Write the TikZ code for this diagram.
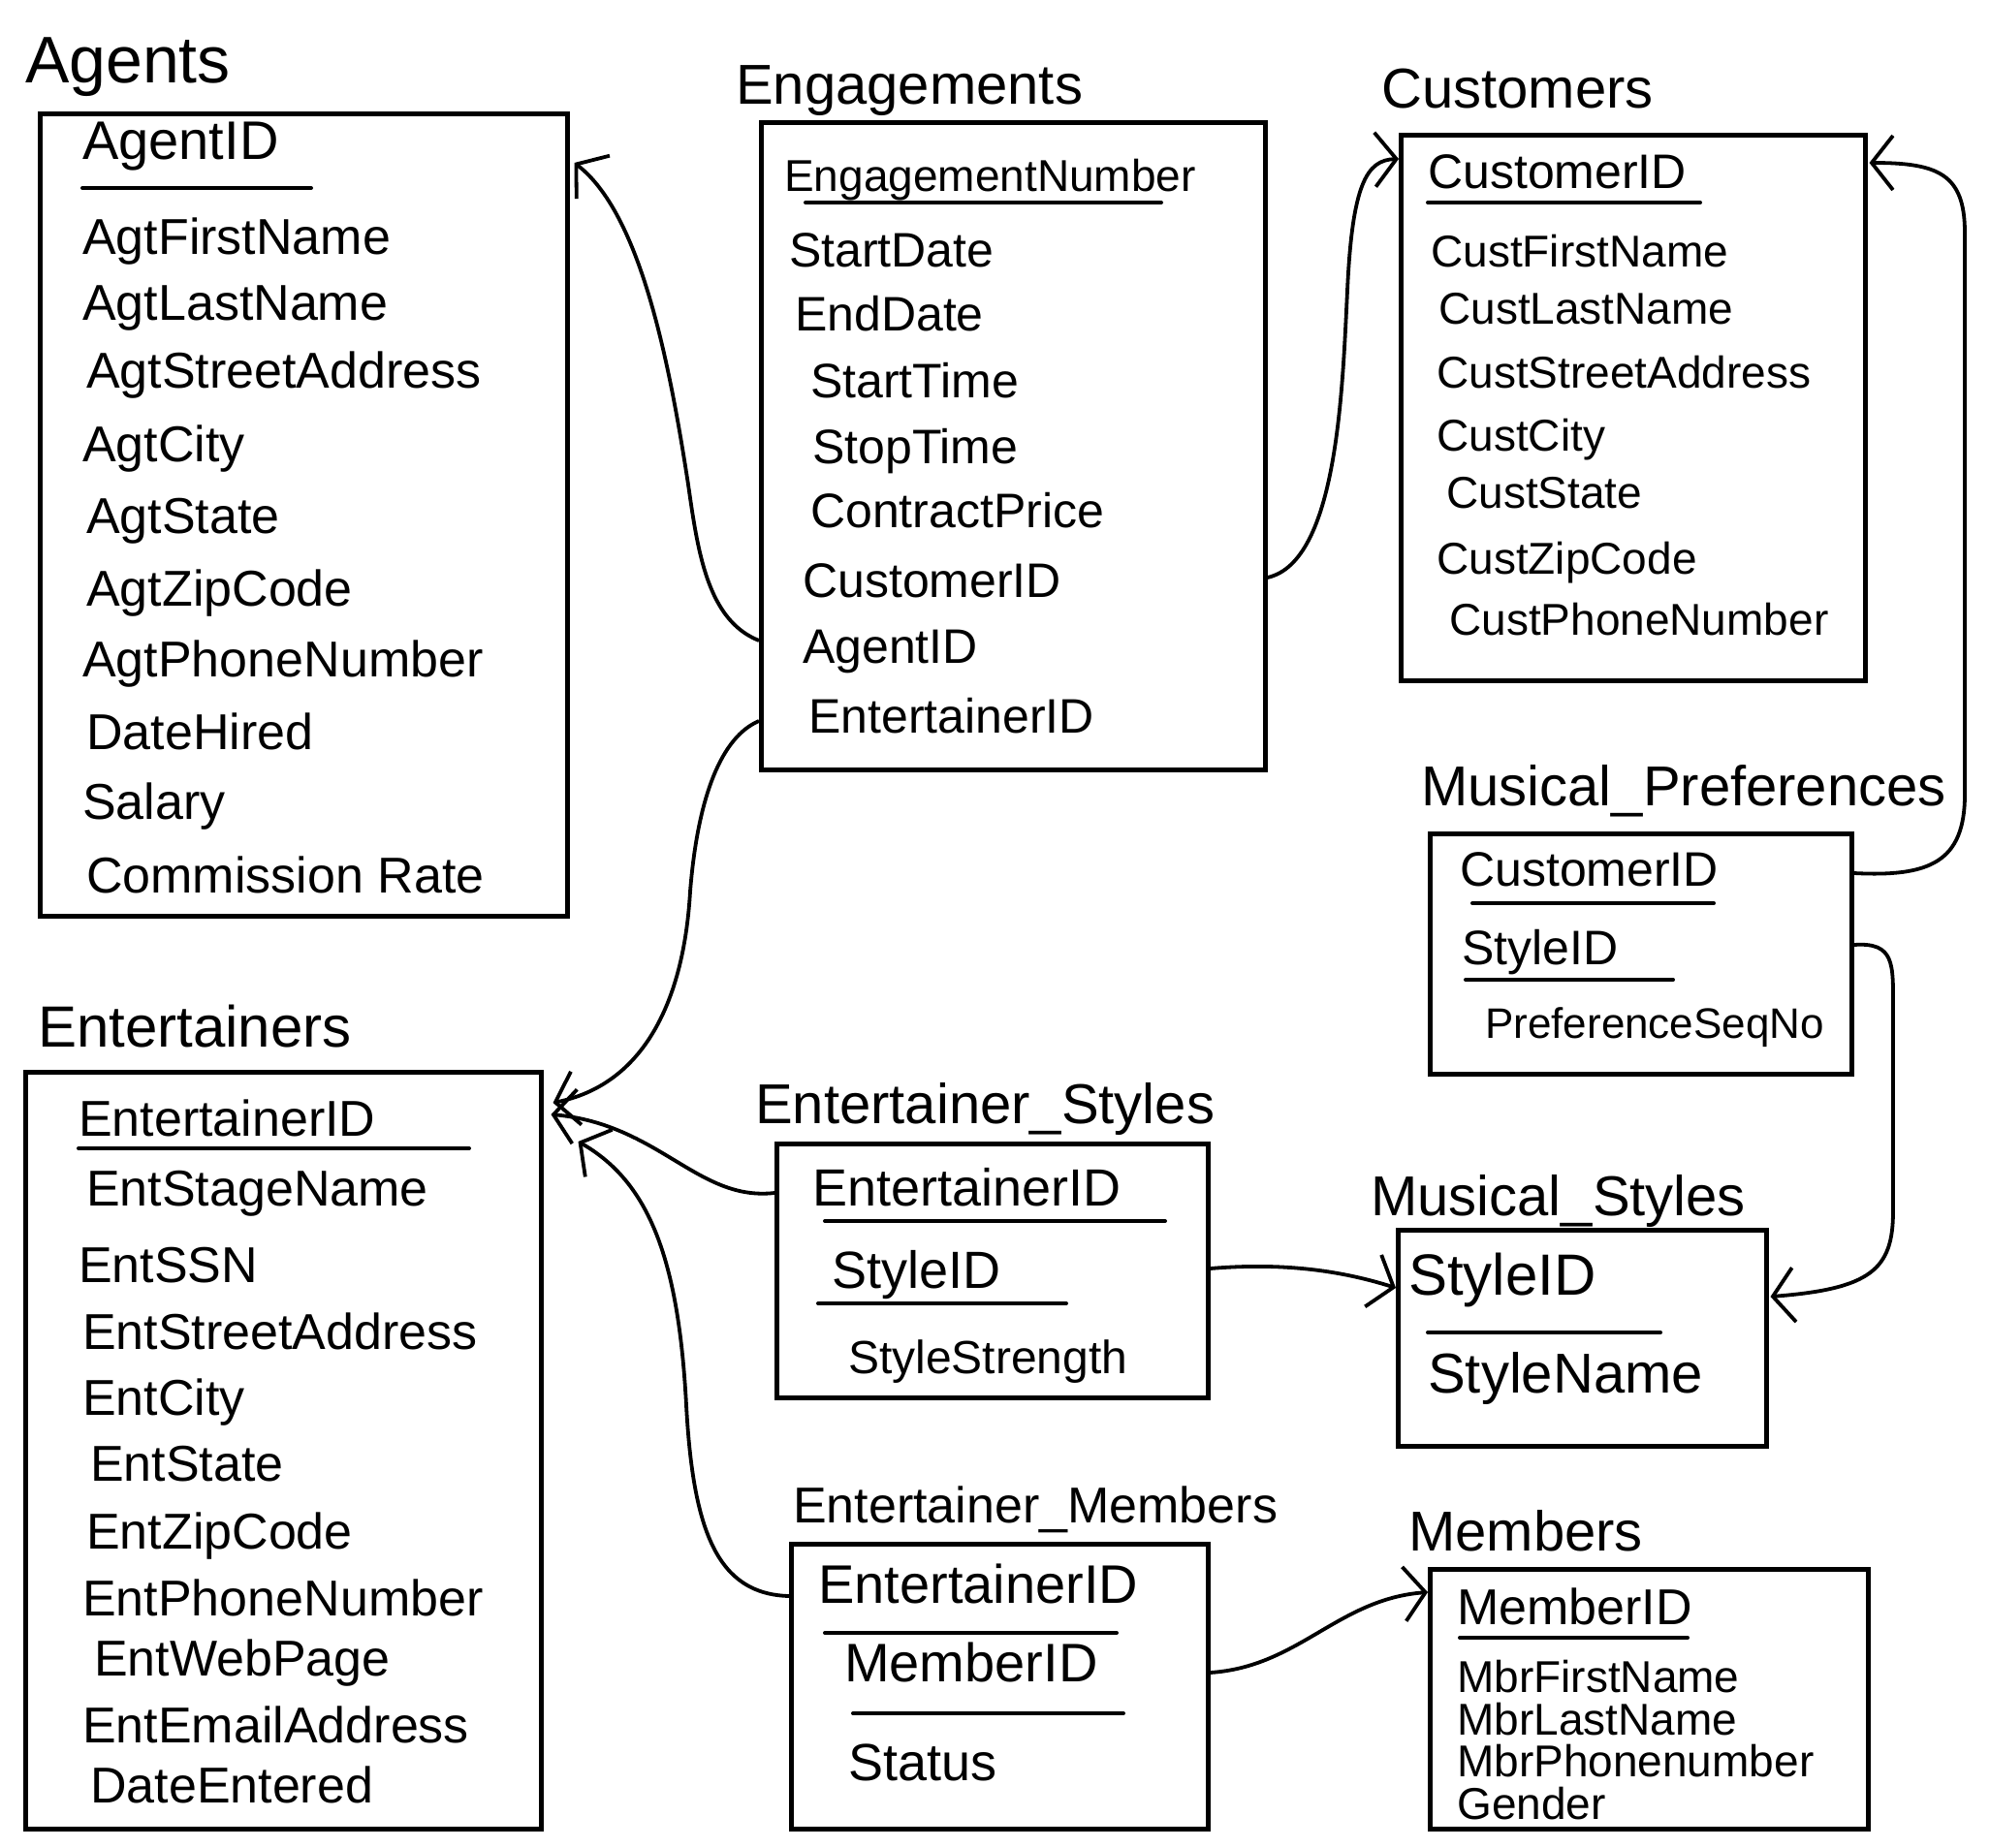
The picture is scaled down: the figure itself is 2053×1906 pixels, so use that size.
\documentclass[tikz,border=0pt]{standalone}
\usepackage{fontspec}
\setmainfont{Liberation Sans}
\usetikzlibrary{arrows.meta,calc}
\tikzset{
  box/.style={draw, line width=4.5pt, rectangle, anchor=north west, inner sep=0pt},
  ttl/.style={anchor=base west, inner sep=0pt, font=\fontsize{58}{60}\selectfont},
  fld/.style={anchor=mid west, inner sep=0pt, yshift=-18pt, font=\fontsize{#1}{#1}\selectfont},
  uline/.style={line width=4pt, line cap=round},
  conn/.style={line width=3.8pt, -{Straight Barb[length=22pt, width=56pt, line width=3.8pt]}},
}
\begin{document}
\begin{tikzpicture}[x=1pt, y=-1pt]
\fill[white] (0,0) rectangle (2053,1906);
\useasboundingbox (0,0) rectangle (2053,1906);

% ---------- Agents ----------
\node[ttl, font=\fontsize{68}{70}\selectfont] (agT) at (26,85) {Agents};
\node[box, minimum width=544, minimum height=828] (agbox) at (39,115) {};
\node[fld=56] (ag1) at (85,144) {AgentID};
\draw[uline] (85,194) -- (321,194);
\node[fld=52] (ag2) at (85,242) {AgtFirstName};
\node[fld=52] (ag3) at (85,310) {AgtLastName};
\node[fld=52] (ag4) at (89,380) {AgtStreetAddress};
\node[fld=52] (ag5) at (85,456) {AgtCity};
\node[fld=52] (ag6) at (89,530) {AgtState};
\node[fld=52] (ag7) at (89,605) {AgtZipCode};
\node[fld=52] (ag8) at (85,678) {AgtPhoneNumber};
\node[fld=52] (ag9) at (89,753) {DateHired};
\node[fld=52] (ag10) at (85,825) {Salary};
\node[fld=52] (ag11) at (89,901) {Commission Rate};

% ---------- Engagements ----------
\node[ttl] (engT) at (759,107) {Engagements};
\node[box, minimum width=520, minimum height=668] (engbox) at (783,124) {};
\node[fld=46] (en1) at (809,177) {EngagementNumber};
\draw[uline] (831,209) -- (1198,209);
\node[fld=50] (en2) at (814,255) {StartDate};
\node[fld=50] (en3) at (820,321) {EndDate};
\node[fld=50] (en4) at (836,390) {StartTime};
\node[fld=50] (en5) at (838,458) {StopTime};
\node[fld=50] (en6) at (836,524) {ContractPrice};
\node[fld=50] (en7) at (828,596) {CustomerID};
\node[fld=50] (en8) at (828,664) {AgentID};
\node[fld=50] (en9) at (834,736) {EntertainerID};

% ---------- Customers ----------
\node[ttl] (cuT) at (1425,111) {Customers};
\node[box, minimum width=479, minimum height=563] (custbox) at (1443,137) {};
\node[fld=50] (cu1) at (1473,174) {CustomerID};
\draw[uline] (1473,209) -- (1754,209);
\node[fld=46] (cu2) at (1476,255) {CustFirstName};
\node[fld=46] (cu3) at (1484,314) {CustLastName};
\node[fld=46] (cu4) at (1482,380) {CustStreetAddress};
\node[fld=46] (cu5) at (1482,445) {CustCity};
\node[fld=46] (cu6) at (1492,504) {CustState};
\node[fld=46] (cu7) at (1482,572) {CustZipCode};
\node[fld=46] (cu8) at (1495,635) {CustPhoneNumber};

% ---------- Musical_Preferences ----------
\node[ttl] (mpT) at (1466,831) {Musical\_Preferences};
\node[box, minimum width=435, minimum height=248] (mpbox) at (1473,858) {};
\node[fld=50] (mp1) at (1506,894) {CustomerID};
\draw[uline] (1519,932) -- (1768,932);
\node[fld=50] (mp2) at (1508,975) {StyleID};
\draw[uline] (1512,1011) -- (1726,1011);
\node[fld=44] (mp3) at (1532,1051) {PreferenceSeqNo};

% ---------- Entertainers ----------
\node[ttl, font=\fontsize{60}{62}\selectfont] (etT) at (39,1080) {Entertainers};
\node[box, minimum width=532, minimum height=781] (entbox) at (24,1104) {};
\node[fld=52] (et1) at (81,1152) {EntertainerID};
\draw[uline] (81,1185) -- (484,1185);
\node[fld=52] (et2) at (89,1224) {EntStageName};
\node[fld=52] (et3) at (81,1303) {EntSSN};
\node[fld=52] (et4) at (85,1372) {EntStreetAddress};
\node[fld=52] (et5) at (85,1440) {EntCity};
\node[fld=52] (et6) at (93,1508) {EntState};
\node[fld=52] (et7) at (89,1578) {EntZipCode};
\node[fld=52] (et8) at (85,1647) {EntPhoneNumber};
\node[fld=52] (et9) at (97,1709) {EntWebPage};
\node[fld=52] (et10) at (85,1778) {EntEmailAddress};
\node[fld=52] (et11) at (93,1840) {DateEntered};

% ---------- Entertainer_Styles ----------
\node[ttl] (esT) at (779,1159) {Entertainer\_Styles};
\node[box, minimum width=445, minimum height=262] (esbox) at (799,1178) {};
\node[fld=54] (es1) at (838,1224) {EntertainerID};
\draw[uline] (851,1260) -- (1202,1260);
\node[fld=54] (es2) at (858,1309) {StyleID};
\draw[uline] (844,1345) -- (1100,1345);
\node[fld=48] (es3) at (875,1397) {StyleStrength};

% ---------- Musical_Styles ----------
\node[ttl] (msT) at (1414,1254) {Musical\_Styles};
\node[box, minimum width=380, minimum height=223] (msbox) at (1440,1267) {};
\node[fld=60] (ms1) at (1453,1316) {StyleID};
\draw[uline] (1473,1375) -- (1713,1375);
\node[fld=58] (ms2) at (1473,1417) {StyleName};

% ---------- Entertainer_Members ----------
\node[ttl, font=\fontsize{52}{54}\selectfont] (emT) at (818,1571) {Entertainer\_Members};
\node[box, minimum width=430, minimum height=294] (embox) at (814,1591) {};
\node[fld=56] (em1) at (844,1634) {EntertainerID};
\draw[uline] (851,1685) -- (1152,1685);
\node[fld=56] (em2) at (871,1715) {MemberID};
\draw[uline] (880,1768) -- (1159,1768);
\node[fld=54] (em3) at (875,1817) {Status};

% ---------- Members ----------
\node[ttl] (meT) at (1453,1600) {Members};
\node[box, minimum width=452, minimum height=268] (membox) at (1473,1617) {};
\node[fld=52] (me1) at (1503,1656) {MemberID};
\draw[uline] (1506,1690) -- (1741,1690);
\node[fld=46] (me2) at (1503,1726) {MbrFirstName};
\node[fld=46] (me3) at (1503,1770) {MbrLastName};
\node[fld=46] (me4) at (1503,1813) {MbrPhonenumber};
\node[fld=46] (me5) at (1503,1857) {Gender};

% ---------- Connectors ----------
% Engagements.AgentID -> Agents
\draw[conn] ($(engbox.north west)+(0,537)$) .. controls (730,640) and (720,570) .. (710,500)
  .. controls (690,370) and (660,220) .. ($(agbox.north east)+(5,53)$);
% Engagements.CustomerID -> Customers
\draw[conn] ($(engbox.north east)+(0,472)$) .. controls (1380,580) and (1385,400) .. (1390,300)
  .. controls (1395,190) and (1410,165) .. ($(custbox.north west)+(0,27)$);
% Musical_Preferences.CustomerID -> Customers
\draw[conn] ($(mpbox.north east)+(0,43)$) .. controls (1990,905) and (2027,890) .. (2027,820)
  -- (2027,240) .. controls (2027,180) and (2000,168) .. ($(custbox.north east)+(2,31)$);
% Musical_Preferences.StyleID -> Musical_Styles
\draw[conn] ($(mpbox.north east)+(0,117)$) .. controls (1955,972) and (1953,995) .. (1953,1040)
  -- (1953,1250) .. controls (1953,1310) and (1930,1330) .. ($(msbox.north east)+(2,71)$);
% Engagements.EntertainerID -> Entertainers
\draw[conn] ($(engbox.north west)+(0,620)$) .. controls (745,760) and (720,820) .. (712,920)
  .. controls (705,1040) and (660,1120) .. ($(entbox.north east)+(10,34)$);
% Entertainer_Styles -> Entertainers
\draw[conn] ($(esbox.north west)+(0,53)$) .. controls (720,1240) and (680,1160) .. ($(entbox.north east)+(8,46)$);
% Entertainer_Styles -> Musical_Styles
\draw[conn] ($(esbox.north east)+(0,131)$) .. controls (1320,1303) and (1380,1310) .. ($(msbox.north west)+(0,62)$);
% Entertainer_Members -> Entertainers
\draw[conn] ($(embox.north west)+(0,56)$) .. controls (740,1645) and (715,1580) .. (708,1450)
  .. controls (700,1300) and (670,1220) .. ($(entbox.north east)+(36,74)$);
% Entertainer_Members -> Members
\draw[conn] ($(embox.north east)+(0,135)$) .. controls (1340,1720) and (1380,1650) .. ($(membox.north west)+(0,26)$);
\end{tikzpicture}
\end{document}
